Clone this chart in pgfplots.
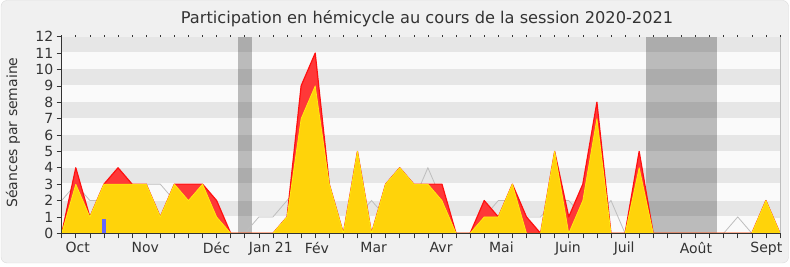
\documentclass[border=0pt]{standalone}
\usepackage{fontspec}
\setmainfont{DejaVu Sans}
\usepackage{pgfplots}
\usepackage{pgfplotstable}
\pgfplotsset{compat=1.18}
\definecolor{bgout}{HTML}{F0F0F0}
\definecolor{frameline}{HTML}{DADADA}
\definecolor{bandlight}{HTML}{FAFAFA}
\definecolor{banddark}{HTML}{E6E6E6}
\definecolor{txt}{HTML}{333333}
\definecolor{redfill}{HTML}{FF3838}
\definecolor{redline}{HTML}{FF1010}
\definecolor{yelfill}{HTML}{FFD30A}
\definecolor{yelline}{HTML}{FFEE10}
\definecolor{medline}{HTML}{BEBEBE}
\definecolor{qblue}{HTML}{6666FF}

\pgfplotstableread{
w red yel med
0 0 0 2
1 4 3 3
2 1 1 2
3 3 3 2
4 4 3 2
5 3 3 2
6 3 3 3
7 1 1 3
8 3 3 2
9 3 2 2
10 3 3 1
11 2 1 1
12 0 0 0
13 0 0 0
14 0 0 1
15 0 0 1
16 1 1 2
17 9 7 3
18 11 9 3
19 3 3 2
20 0 0 0
21 5 5 1
22 0 0 2
23 3 3 1
24 4 4 1
25 3 3 2
26 3 3 4
27 3 2 2
28 0 0 0
29 0 0 0
30 2 1 1
31 1 1 2
32 3 3 2
33 1 0 1
34 0 0 1
35 5 5 2
36 1 0 2
37 3 2 1
38 8 7 1
39 0 0 2
40 0 0 0
41 5 4 1
42 0 0 0
43 0 0 0
44 0 0 0
45 0 0 0
46 0 0 0
47 0 0 0
48 0 0 1
49 0 0 0
50 2 2 1
51 0 0 1
}\data

\begin{document}
\begin{tikzpicture}[x=1pt,y=1pt]
\useasboundingbox (0,0) rectangle (790,267);
\filldraw[fill=bgout, draw=frameline, rounded corners=6pt] (1,4) rectangle (788.5,266.5);
\node[text=txt, font=\fontsize{16.2}{19}\selectfont] at (427,248) {Participation en hémicycle au cours de la session 2020-2021};
\node[text=txt, rotate=90, font=\fontsize{14}{16}\selectfont] at (13,134.5) {Séances par semaine};
\begin{axis}[
  at={(61.7pt,33.7pt)}, anchor=south west,
  scale only axis, width=718.3pt, height=196.6pt,
  xmin=0, xmax=51, ymin=0, ymax=12,
  axis on top,
  axis x line*=bottom, axis y line*=left,
  axis line style={draw=txt, line width=0.8pt, -},
  xtick={1.14,5.94,10.99,14.85,18.12,22.15,26.94,31.22,35.94,39.94,45.03,50.03},
  xticklabels={Oct,Nov,Déc,Jan 21,Fév,Mar,Avr,Mai,Juin,Juil,Août,Sept},
  major x tick style={draw=none},
  minor xtick={0,...,51},
  minor x tick style={draw=txt, line width=0.6pt},
  minor tick length=5pt,
  ytick={0,...,12},
  y tick style={draw=txt, line width=0.6pt},
  major tick length=5pt,
  tick align=outside,
  tick label style={font=\fontsize{14}{16}\selectfont, text=txt},
  /pgf/number format/assume math mode=true,
]
\fill[bandlight] (axis cs:0,0) rectangle (axis cs:51,12);
\fill[banddark] (axis cs:0,1.05) rectangle (axis cs:51,2);
\fill[banddark] (axis cs:0,3.05) rectangle (axis cs:51,4);
\fill[banddark] (axis cs:0,5.05) rectangle (axis cs:51,6);
\fill[banddark] (axis cs:0,7.05) rectangle (axis cs:51,8);
\fill[banddark] (axis cs:0,9.05) rectangle (axis cs:51,10);
\fill[banddark] (axis cs:0,11.05) rectangle (axis cs:51,12);
\fill[black, opacity=0.25] (axis cs:12.5,0) rectangle (axis cs:13.5,12);
\fill[black, opacity=0.25] (axis cs:41.5,0) rectangle (axis cs:46.5,12);
\addplot[medline, line width=0.8pt] table[x=w,y=med] {\data};
\addplot[draw=redline, line width=1.2pt, fill=redfill, line join=round] table[x=w,y=red] {\data} \closedcycle;
\addplot[draw=yelline, line width=0.7pt, fill=yelfill, line join=round] table[x=w,y=yel] {\data} \closedcycle;
\addplot[ybar, bar width=4.7pt, bar shift=0pt, fill=qblue, draw=none] coordinates {(3,0.875)};
\end{axis}
\foreach \i in {0,...,51} \draw[txt, line width=0.6pt] (61.7+\i*14.0843,230.3) -- ++(0,2);
\draw[medline, line width=0.8pt] (780,33.7) -- (780,230.3);
\end{tikzpicture}
\end{document}
